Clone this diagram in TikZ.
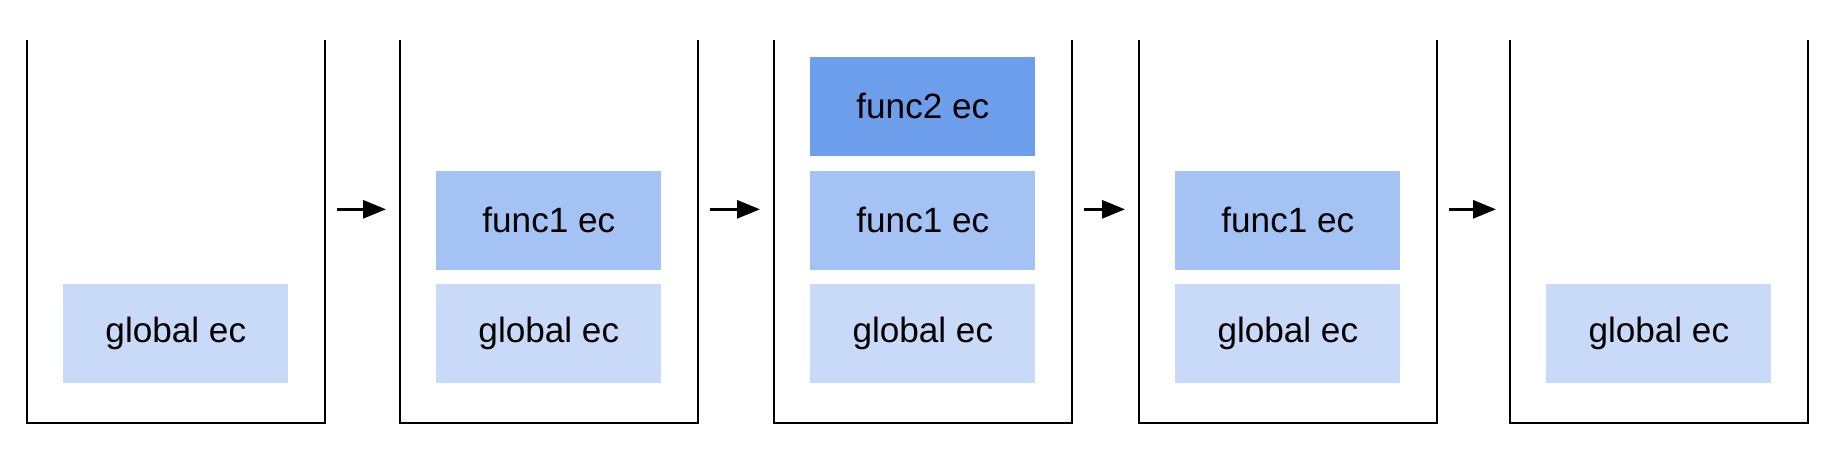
\documentclass[tikz,border=0pt]{standalone}
\usepackage{fontspec}
\setmainfont{Liberation Sans}
\usepackage{tikz}
\usetikzlibrary{positioning}
\usetikzlibrary{arrows.meta}
\definecolor{globalc}{HTML}{C9DAF8}
\definecolor{funcone}{HTML}{A4C2F4}
\definecolor{functwo}{HTML}{6D9EEB}

\begin{document}
\begin{tikzpicture}[x=0.02cm,y=-0.02cm,
  stack/.style={minimum width=5.94cm,minimum height=7.64cm,inner sep=0pt,anchor=north west},
  ec/.style={minimum width=4.5cm,minimum height=1.98cm,inner sep=0pt,font=\fontsize{20}{24}\selectfont}]
\useasboundingbox (0,0) rectangle (1830,462);
\foreach \i/\x in {1/27,2/400,3/774,4/1139,5/1510}{
  \node[stack] (s\i) at (\x,40) {};
  \draw[line width=0.04cm] (s\i.north west) -- (s\i.south west) -- (s\i.south east) -- (s\i.north east);
  \node[ec,fill=globalc,above=0.78cm of s\i.south] (g\i) {global ec};
}
\node[ec,fill=funcone,above=0.28cm of g2] (f2) {func1 ec};
\node[ec,fill=funcone,above=0.28cm of g3] (f3) {func1 ec};
\node[ec,fill=functwo,above=0.28cm of f3] (ff3) {func2 ec};
\node[ec,fill=funcone,above=0.28cm of g4] (f4) {func1 ec};
\foreach \i/\j in {1/2,2/3,3/4,4/5}{
  \coordinate (a\i) at ([xshift=0.24cm,yshift=0.44cm]s\i.east);
  \coordinate (b\i) at ([xshift=-0.28cm,yshift=0.44cm]s\j.west);
  \path[-{Triangle[length=0.46cm,width=0.36cm]},line width=0.06cm] (a\i) edge (b\i);
}
\end{tikzpicture}
\end{document}
